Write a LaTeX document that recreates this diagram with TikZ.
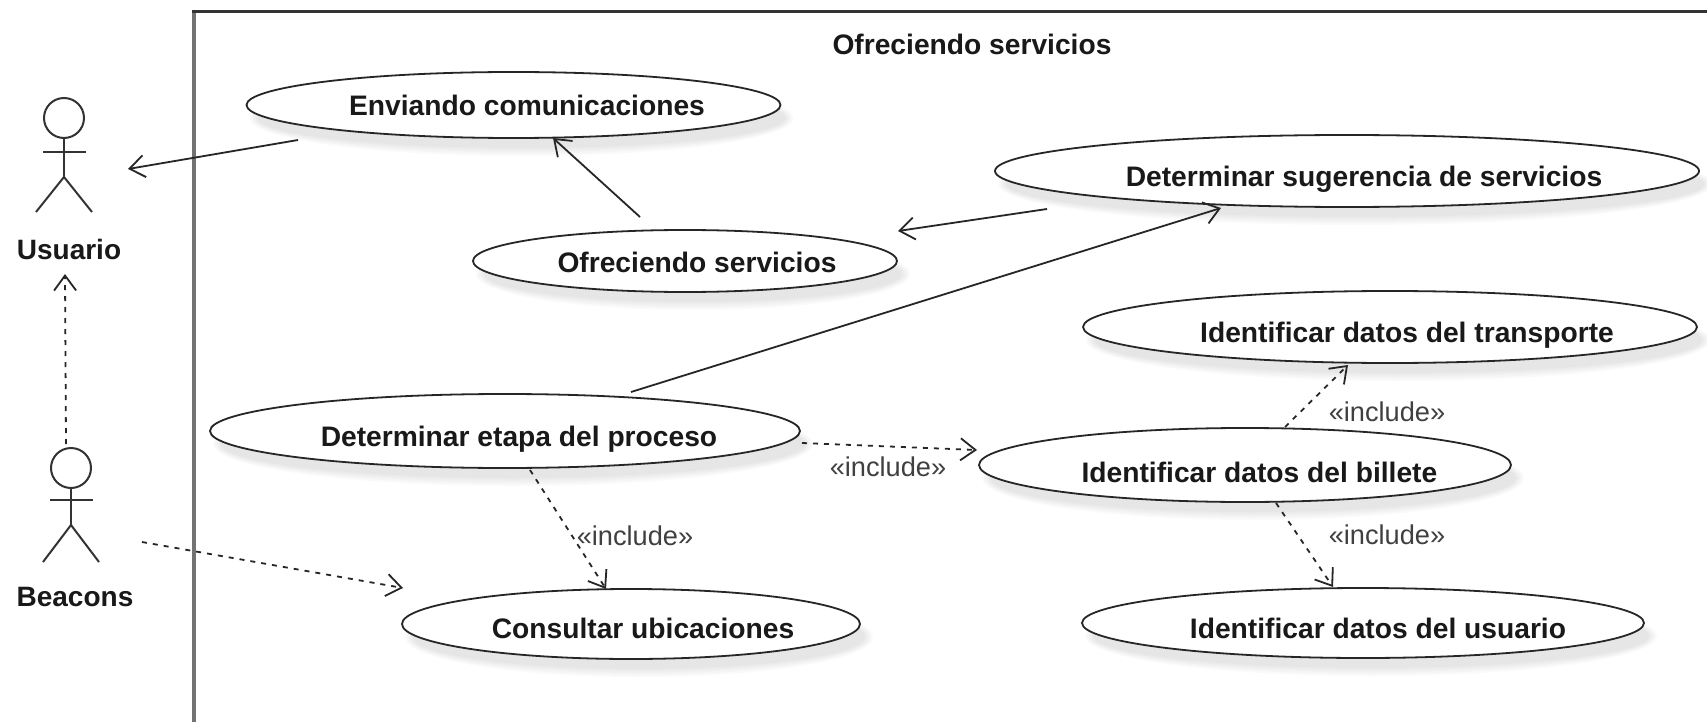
\documentclass[tikz,border=0pt]{standalone}
\usepackage{fontspec}
\setmainfont{Liberation Sans}
\usetikzlibrary{shapes.geometric,arrows.meta}
\tikzset{
  usecase/.style={ellipse,draw=black!85,line width=1.8pt,fill=white,inner sep=0pt,font=\fontsize{28.2}{32}\selectfont\bfseries,text=black!90},
  shadowring/.style={fill=black,opacity=0.018,draw=none},
  actorline/.style={draw=black!80,line width=2pt},
  assoc/.style={draw=black!85,line width=1.8pt,-{Straight Barb[length=15pt,width=22pt,line width=1.8pt]}},
  dep/.style={assoc,dash pattern=on 5pt off 6pt},
  incl/.style={font=\fontsize{27.2}{30}\selectfont,text=black!75},
  actorlabel/.style={font=\fontsize{28}{32}\selectfont\bfseries,text=black!90},
  titletext/.style={font=\fontsize{28.2}{32}\selectfont\bfseries,text=black!90},
}
% name, cx, cy, rx, ry, text dx, text raise, text
\newcommand{\ucase}[8]{%
  \foreach \g in {0,2,4,6,8}{
    \fill[shadowring] (#2+8,#3+13) ellipse [x radius={#4+5-\g}, y radius={#5+5-\g}];
  }
  \node[usecase,minimum width=#4*2pt,minimum height=#5*2pt] (#1) at (#2,#3)
    {\makebox[0pt]{\hspace*{#6pt}\hspace*{#6pt}\raisebox{#7pt}[0pt][0pt]{#8}}};
}
% name, head x, head y, arm offset, hip offset
\newcommand{\stickman}[5]{%
  \node[circle,actorline,minimum size=40pt,inner sep=0pt] (#1) at (#2,#3) {};
  \coordinate (#1-hip) at (#2,#3+#5);
  \draw[actorline] (#1.south) -- (#1-hip);
  \draw[actorline] (#2-21,#3+#4) -- (#2+22,#3+#4);
  \draw[actorline] (#2-28,#3+94) -- (#1-hip) -- (#2+28,#3+94);
}
\begin{document}
\begin{tikzpicture}[x=1pt,y=-1pt]
\useasboundingbox (0,0) rectangle (1707,722);
\fill[white] (0,0) rectangle (1707,722);
% system boundary
\coordinate (bTL) at (194,12);
\coordinate (bTR) at (1707,12);
\coordinate (bBL) at (194,722);
\draw[black!55,line width=3.2pt] (bTL) -- (bBL);
\draw[black!80,line width=3pt] (192.4,12) -- (bTR);
\node[titletext] (title) at (972,44) {Ofreciendo servicios};
% use cases
\ucase{env}{513.5}{105}{267}{33}{13.5}{-11}{Enviando comunicaciones}
\ucase{ofr}{685}{261}{212}{31}{12}{-11}{Ofreciendo servicios}
\ucase{sug}{1347}{171}{352}{36}{17}{-16}{Determinar sugerencia de servicios}
\ucase{tra}{1390}{327}{307}{36}{17}{-15.5}{Identificar datos del transporte}
\ucase{bil}{1245}{465}{266}{37}{14.4}{-17}{Identificar datos del billete}
\ucase{eta}{505}{431}{295}{37}{14}{-15}{Determinar etapa del proceso}
\ucase{con}{631}{624}{229}{35}{12}{-14.5}{Consultar ubicaciones}
\ucase{usu}{1363}{623}{281}{35}{15}{-15.5}{Identificar datos del usuario}
% actors
\stickman{uA}{64}{118}{34}{59}
\node[actorlabel] (uL) at (69,249) {Usuario};
\stickman{bA}{71}{468}{32}{57}
\node[actorlabel] (bL) at (75,597) {Beacons};
% free ends of connectors
\coordinate (a1) at (298,140); \coordinate (a2) at (128,169);
\coordinate (b1) at (640,217); \coordinate (b2) at (553,138);
\coordinate (c1) at (1047,209); \coordinate (c2) at (898,231);
\coordinate (d1) at (631,392); \coordinate (d2) at (1221,208);
\coordinate (e1) at (66,444); \coordinate (e2) at (65,274);
\coordinate (f1) at (142,542); \coordinate (f2) at (403,588);
\coordinate (g1) at (530,470); \coordinate (g2) at (606,589);
\coordinate (h1) at (802,443); \coordinate (h2) at (977,450);
\coordinate (i1) at (1285,427); \coordinate (i2) at (1348,365);
\coordinate (j1) at (1276,503); \coordinate (j2) at (1333,587);
\draw[assoc] (a1) -- (a2);
\draw[assoc] (b1) -- (b2);
\draw[assoc] (c1) -- (c2);
\draw[assoc] (d1) -- (d2);
\draw[dep] (e1) -- (e2);
\draw[dep] (f1) -- (f2);
\draw[dep] (g1) -- (g2);
\draw[dep] (h1) -- (h2);
\draw[dep] (i1) -- (i2);
\draw[dep] (j1) -- (j2);
% stereotypes
\node[incl] (l1) at (888,467) {«include»};
\node[incl] (l2) at (635,536) {«include»};
\node[incl] (l3) at (1387,412) {«include»};
\node[incl] (l4) at (1387,535) {«include»};
\end{tikzpicture}
\end{document}
